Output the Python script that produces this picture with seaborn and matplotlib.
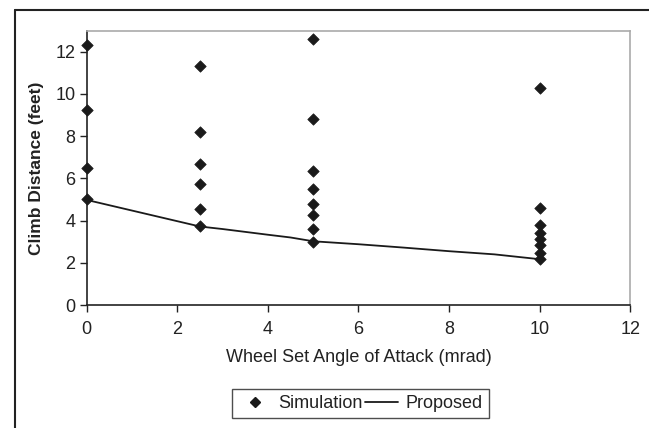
import numpy as np
import pandas as pd
import matplotlib
matplotlib.use("Agg")
import matplotlib.pyplot as plt
from matplotlib.lines import Line2D
import seaborn as sns

# --- data ---
sim_x = [0, 0, 0, 0,
         2.5, 2.5, 2.5, 2.5, 2.5, 2.5,
         5, 5, 5, 5, 5, 5, 5, 5,
         10, 10, 10, 10, 10, 10, 10, 10]
sim_y = [12.33, 9.25, 6.51, 5.03,
         11.35, 8.22, 6.70, 5.74, 4.54, 3.75,
         12.63, 8.81, 6.37, 5.49, 4.79, 4.27, 3.59, 3.00,
         10.28, 4.59, 3.80, 3.40, 3.13, 2.85, 2.48, 2.17]
prop_x = [0, 2.5, 3, 4, 4.5, 5, 6, 7, 8, 9, 10]
prop_y = [4.98, 3.72, 3.60, 3.33, 3.20, 3.02, 2.88, 2.72, 2.55, 2.40, 2.17]
x_ticks = [0, 2, 4, 6, 8, 10, 12]
y_ticks = [0, 2, 4, 6, 8, 10, 12]

sim = pd.DataFrame({"x": sim_x, "y": sim_y})
prop = pd.DataFrame({"x": prop_x, "y": prop_y})

sns.set_style("white")
plt.rcParams["font.family"] = ["Liberation Sans", "DejaVu Sans"]

fig = plt.figure(figsize=(6.49, 4.28), dpi=100)
ax = fig.add_axes([86.7 / 649, 1 - 305 / 428, (630.3 - 86.7) / 649, (305 - 30.7) / 428])

sns.lineplot(data=prop, x="x", y="y", ax=ax, color="#1a1a1a", linewidth=1.3,
             label="Proposed", legend=False)
sns.scatterplot(data=sim, x="x", y="y", ax=ax, marker="D", s=34, color="#1a1a1a",
                edgecolor="#1a1a1a", linewidth=0.5, label="Simulation", legend=False,
                zorder=3, clip_on=False)

ax.set_xlim(0, 12)
ax.set_ylim(0, 13)
ax.set_xticks(x_ticks)
ax.set_yticks(y_ticks)
ax.tick_params(axis="both", direction="out", length=5, width=1, color="#222222",
               labelsize=13, labelcolor="#222222", pad=3)
ax.tick_params(axis="x", pad=6.5)
ax.tick_params(bottom=True, left=True)

for s in ["left", "bottom"]:
    ax.spines[s].set_color("#222222")
    ax.spines[s].set_linewidth(1.2)
for s in ["top", "right"]:
    ax.spines[s].set_color("#aaaaaa")
    ax.spines[s].set_linewidth(1.2)

ax.set_xlabel("Wheel Set Angle of Attack (mrad)", fontsize=13, color="#222222", labelpad=8)
ax.set_ylabel("Climb Distance (feet)", fontsize=12.5, fontweight="bold", color="#222222",
              labelpad=8)

handles = [
    Line2D([], [], marker="D", linestyle="none", color="#1a1a1a", markersize=5),
    Line2D([], [], color="#1a1a1a", linewidth=1.3),
]
leg = fig.legend(handles, ["Simulation", "Proposed"], loc="center",
                 bbox_to_anchor=(360.5 / 649, 1 - 403.5 / 428), ncol=2,
                 frameon=True, fancybox=False, edgecolor="#222222", fontsize=13,
                 handlelength=1.8, handletextpad=0.4, columnspacing=0.15,
                 borderpad=0.35)
leg.get_frame().set_linewidth(1.0)
for t in leg.get_texts():
    t.set_color("#222222")

# outer chart frame (top and left visible)
fig.add_artist(Line2D([15 / 649, 1.0], [1 - 10 / 428, 1 - 10 / 428],
                      transform=fig.transFigure, color="#222222", linewidth=1.5))
fig.add_artist(Line2D([15 / 649, 15 / 649], [0.0, 1 - 10 / 428],
                      transform=fig.transFigure, color="#222222", linewidth=1.5))

fig.savefig("out.png", dpi=100)
